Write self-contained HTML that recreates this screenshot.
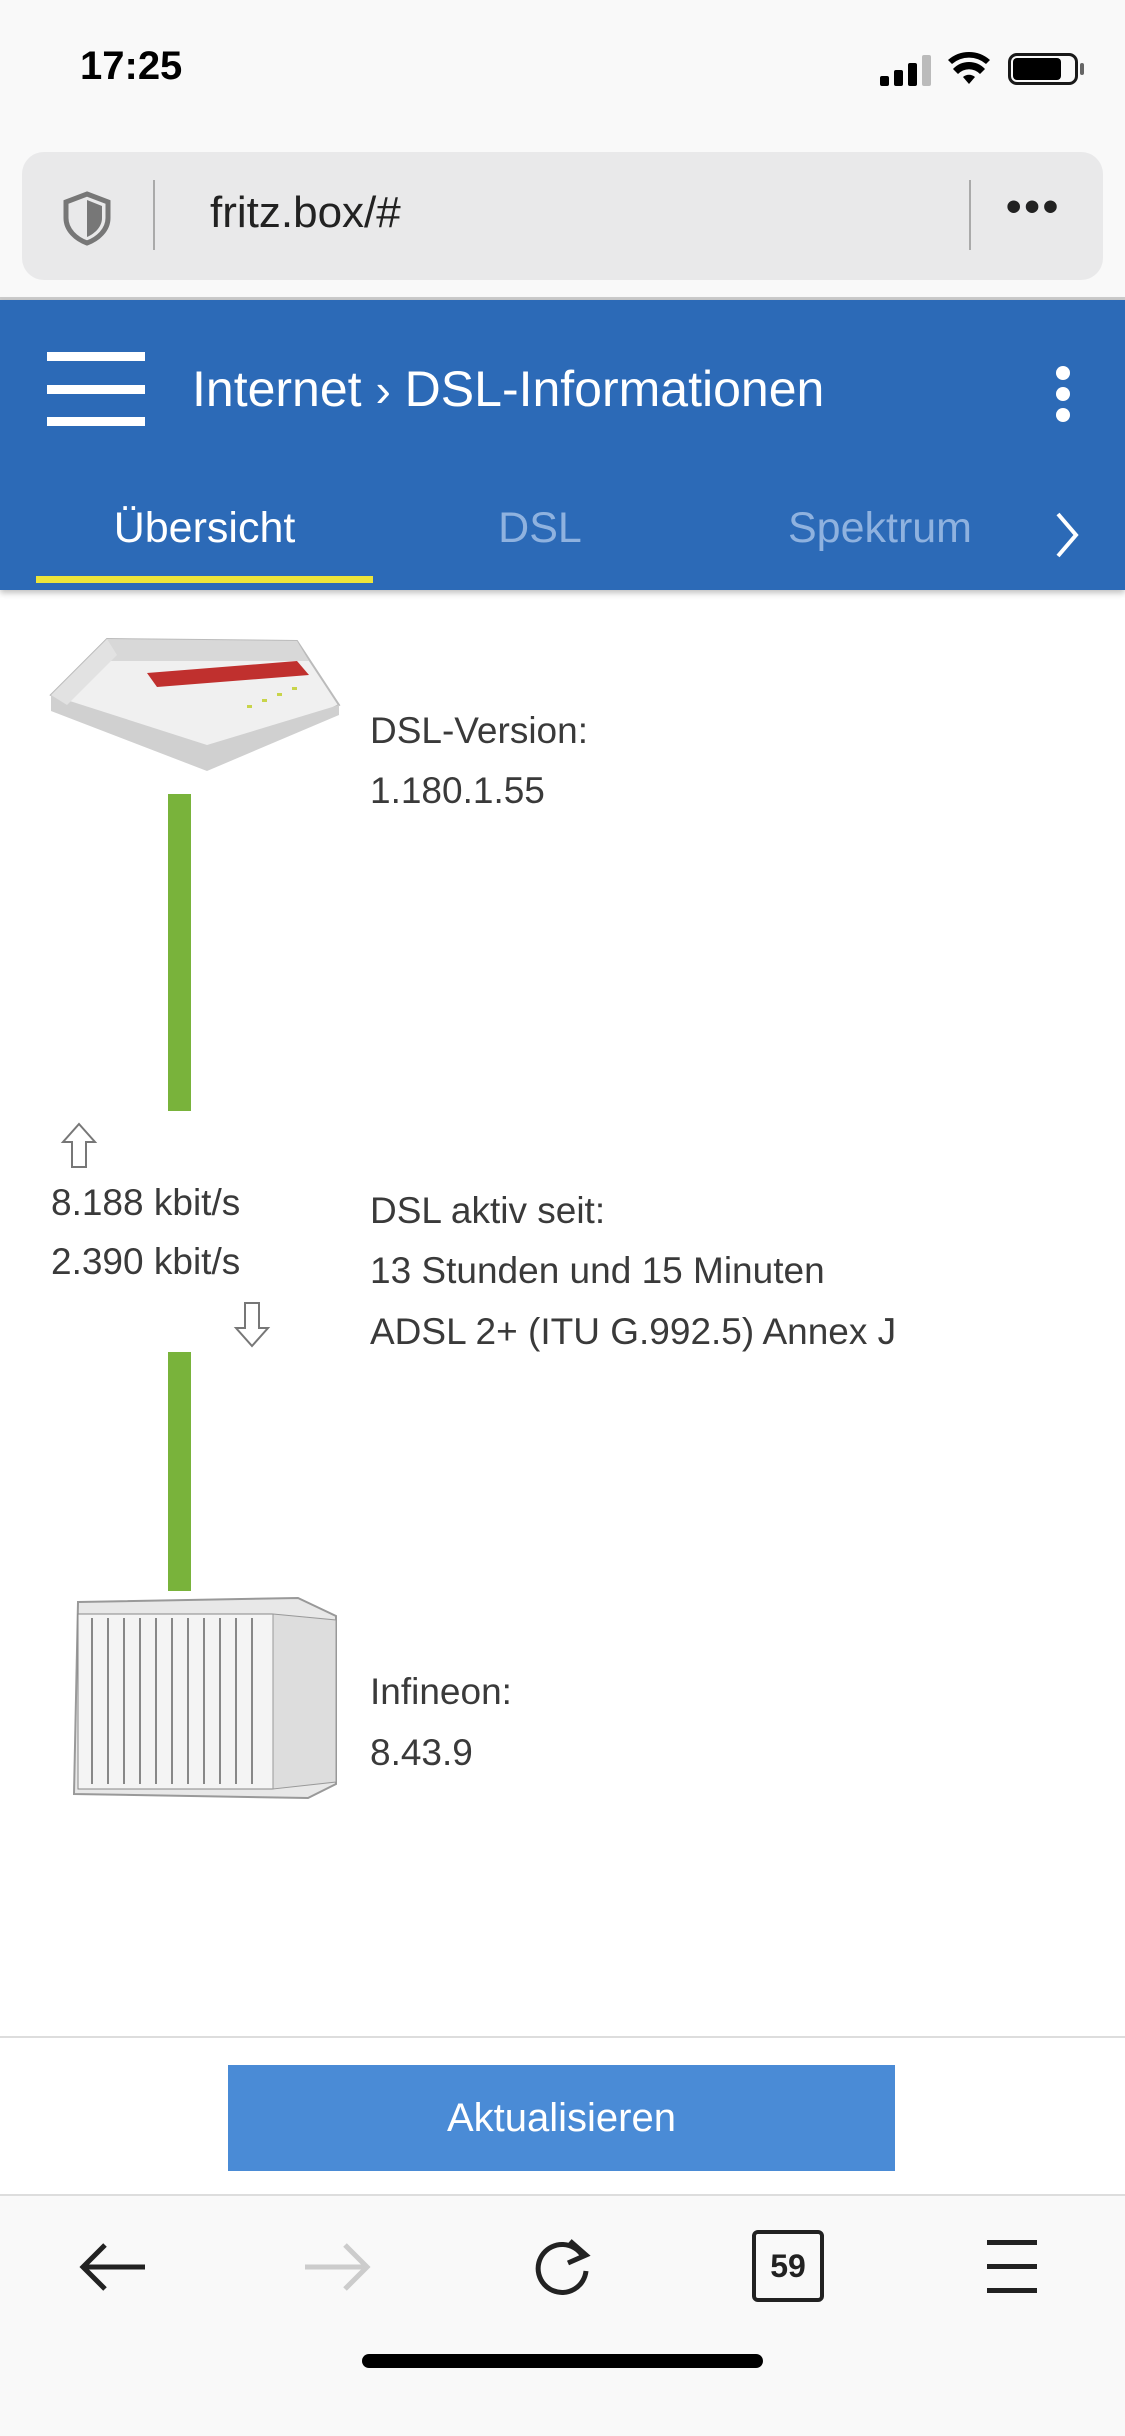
<!DOCTYPE html>
<html><head><meta charset="utf-8"><style>
*{margin:0;padding:0;box-sizing:border-box}
body{width:1125px;height:2436px;position:relative;background:#fff;font-family:"Liberation Sans","DejaVu Sans",sans-serif;overflow:hidden;color:#333}
.a{position:absolute}
.t{font-size:37px;color:#3a3a3a;white-space:nowrap}
</style></head><body>
<div class="a" style="left:0;top:0;width:1125px;height:298px;background:#f9f9f9"></div>
<div class="a" style="left:80px;top:44px;font-size:40px;font-weight:bold;color:#000">17:25</div>
<div class="a" style="left:880px;top:76px;width:9px;height:10px;background:#000;border-radius:2px"></div>
<div class="a" style="left:894px;top:70px;width:9px;height:16px;background:#000;border-radius:2px"></div>
<div class="a" style="left:908px;top:63px;width:9px;height:23px;background:#000;border-radius:2px"></div>
<div class="a" style="left:922px;top:55px;width:9px;height:31px;background:#bbb;border-radius:2px"></div>
<svg class="a" style="left:948px;top:52px" width="42" height="34" viewBox="0 0 42 34"><path d="M21 32 L27 25 A9 9 0 0 0 15 25Z M21 10 A22 22 0 0 1 37 17 L32 22 A15 15 0 0 0 10 22 L5 17 A22 22 0 0 1 21 10Z M21 0 A32 32 0 0 1 42 8 L38 12 A26 26 0 0 0 4 12 L0 8 A32 32 0 0 1 21 0Z" fill="#000"/></svg>
<div class="a" style="left:1008px;top:53px;width:70px;height:32px;border:3px solid #000;border-radius:9px;opacity:.9"></div>
<div class="a" style="left:1013px;top:58px;width:48px;height:22px;background:#000;border-radius:4px"></div>
<div class="a" style="left:1080px;top:63px;width:4px;height:12px;background:#666;border-radius:2px"></div>
<div class="a" style="left:22px;top:152px;width:1081px;height:128px;background:#e9e9ea;border-radius:22px"></div>
<svg class="a" style="left:60px;top:190px" width="54" height="56" viewBox="0 0 54 56"><path d="M27 4 L48 12 V28 C48 40 38 49 27 53 C16 49 6 40 6 28 V12Z" fill="none" stroke="#777" stroke-width="5"/><path d="M27 10 V47 C36 43 42 36 42 28 V16Z" fill="#777"/></svg>
<div class="a" style="left:153px;top:180px;width:2px;height:70px;background:#aaa"></div>
<div class="a" style="left:210px;top:188px;font-size:44px;color:#222">fritz.box/#</div>
<div class="a" style="left:969px;top:180px;width:2px;height:70px;background:#aaa"></div>
<div class="a" style="left:1006px;top:182px;font-size:44px;color:#222;letter-spacing:3px;font-weight:bold">•••</div>
<div class="a" style="left:0;top:297px;width:1125px;height:3px;background:#ccc"></div>
<div class="a" style="left:0;top:300px;width:1125px;height:290px;background:#2c6ab7;box-shadow:0 3px 6px rgba(0,0,0,.25)"></div>
<div class="a" style="left:47px;top:352px;width:98px;height:9px;background:#fff"></div>
<div class="a" style="left:47px;top:385px;width:98px;height:9px;background:#fff"></div>
<div class="a" style="left:47px;top:417px;width:98px;height:9px;background:#fff"></div>
<div class="a" style="left:192px;top:360px;font-size:50px;color:#fff;white-space:nowrap">Internet <span style="font-size:46px">&#x203A;</span> DSL-Informationen</div>
<div class="a" style="left:1056px;top:366px;width:14px;height:14px;background:#fff;border-radius:50%"></div>
<div class="a" style="left:1056px;top:387px;width:14px;height:14px;background:#fff;border-radius:50%"></div>
<div class="a" style="left:1056px;top:408px;width:14px;height:14px;background:#fff;border-radius:50%"></div>
<div class="a" style="left:36px;top:504px;width:337px;text-align:center;font-size:43px;color:#fff">Übersicht</div>
<div class="a" style="left:36px;top:576px;width:337px;height:7px;background:#ede53a"></div>
<div class="a" style="left:440px;top:504px;width:200px;text-align:center;font-size:43px;color:#8fb2df">DSL</div>
<div class="a" style="left:760px;top:504px;width:240px;text-align:center;font-size:43px;color:#8fb2df">Spektrum</div>
<svg class="a" style="left:1052px;top:510px" width="30" height="50"><path d="M6 4 L24 25 L6 46" fill="none" stroke="#fff" stroke-width="4"/></svg>
<svg class="a" style="left:47px;top:635px" width="295" height="142" viewBox="0 0 295 142"><path d="M4 60 L60 4 L250 6 L292 70 L160 134 Z" fill="#f0f0f0" stroke="#bbb" stroke-width="2"/><path d="M60 4 L250 6 L262 26 L40 26Z" fill="#d8d8d8"/><path d="M100 38 L250 26 L262 40 L110 52Z" fill="#c0302e"/><path d="M4 60 L160 110 L292 70 L292 80 L160 136 L4 76Z" fill="#d0d0d0"/><path d="M4 60 L60 4 L70 20 L20 70Z" fill="#e2e2e2"/><g fill="#c8d44a"><rect x="200" y="70" width="5" height="3"/><rect x="215" y="64" width="5" height="3"/><rect x="230" y="58" width="5" height="3"/><rect x="245" y="52" width="5" height="3"/></g></svg>
<div class="a t" style="left:370px;top:710px">DSL-Version:</div>
<div class="a t" style="left:370px;top:770px">1.180.1.55</div>
<div class="a" style="left:168px;top:794px;width:23px;height:317px;background:#79b33b"></div>
<svg class="a" style="left:60px;top:1122px" width="38" height="48"><path d="M19 2 L35 20 H26 V45 H12 V20 H3Z" fill="#fff" stroke="#777" stroke-width="2"/></svg>
<div class="a t" style="left:51px;top:1182px">8.188 kbit/s</div>
<div class="a t" style="left:51px;top:1241px">2.390 kbit/s</div>
<svg class="a" style="left:233px;top:1300px" width="38" height="48"><path d="M19 46 L35 28 H26 V3 H12 V28 H3Z" fill="#fff" stroke="#777" stroke-width="2"/></svg>
<div class="a t" style="left:370px;top:1190px">DSL aktiv seit:</div>
<div class="a t" style="left:370px;top:1250px">13 Stunden und 15 Minuten</div>
<div class="a t" style="left:370px;top:1311px">ADSL 2+ (ITU G.992.5) Annex J</div>
<div class="a" style="left:168px;top:1352px;width:23px;height:239px;background:#79b33b"></div>
<svg class="a" style="left:68px;top:1594px" width="270" height="208" viewBox="0 0 270 208"><path d="M10 8 L230 4 L268 22 L268 190 L240 204 L6 200Z" fill="#e8e8e8" stroke="#999" stroke-width="2"/><rect x="10" y="20" width="195" height="175" fill="#f4f4f4" stroke="#888"/><g stroke="#888" stroke-width="2">
<line x1="24" y1="24" x2="24" y2="190"/><line x1="40" y1="24" x2="40" y2="190"/><line x1="56" y1="24" x2="56" y2="190"/><line x1="72" y1="24" x2="72" y2="190"/><line x1="88" y1="24" x2="88" y2="190"/><line x1="104" y1="24" x2="104" y2="190"/><line x1="120" y1="24" x2="120" y2="190"/><line x1="136" y1="24" x2="136" y2="190"/><line x1="152" y1="24" x2="152" y2="190"/><line x1="168" y1="24" x2="168" y2="190"/><line x1="184" y1="24" x2="184" y2="190"/></g><path d="M205 20 L268 26 L268 188 L205 195Z" fill="#ddd" stroke="#999"/></svg>
<div class="a t" style="left:370px;top:1671px">Infineon:</div>
<div class="a t" style="left:370px;top:1732px">8.43.9</div>
<div class="a" style="left:0;top:2036px;width:1125px;height:2px;background:#ddd"></div>
<div class="a" style="left:228px;top:2065px;width:667px;height:106px;background:#4a8bd6;color:#fff;font-size:40px;text-align:center;line-height:106px">Aktualisieren</div>
<div class="a" style="left:0;top:2194px;width:1125px;height:242px;background:#f9f9f9;border-top:2px solid #ddd"></div>
<svg class="a" style="left:75px;top:2240px" width="75" height="55"><path d="M70 27 H8 M30 5 L8 27 L30 49" fill="none" stroke="#222" stroke-width="5"/></svg>
<svg class="a" style="left:300px;top:2240px" width="75" height="55"><path d="M5 27 H67 M45 5 L67 27 L45 49" fill="none" stroke="#ccc" stroke-width="5"/></svg>
<svg class="a" style="left:530px;top:2235px" width="65" height="65"><path d="M52 20 A24 24 0 1 0 56 36" fill="none" stroke="#222" stroke-width="5"/><path d="M40 6 L56 20 L38 28" fill="none" stroke="#222" stroke-width="5"/></svg>
<div class="a" style="left:752px;top:2230px;width:72px;height:72px;border:4px solid #222;border-radius:6px;font-size:32px;font-weight:bold;text-align:center;line-height:64px;color:#222">59</div>
<div class="a" style="left:987px;top:2240px;width:50px;height:5px;background:#222"></div>
<div class="a" style="left:987px;top:2264px;width:50px;height:5px;background:#222"></div>
<div class="a" style="left:987px;top:2288px;width:50px;height:5px;background:#222"></div>
<div class="a" style="left:362px;top:2354px;width:401px;height:14px;background:#000;border-radius:7px"></div>
</body></html>
